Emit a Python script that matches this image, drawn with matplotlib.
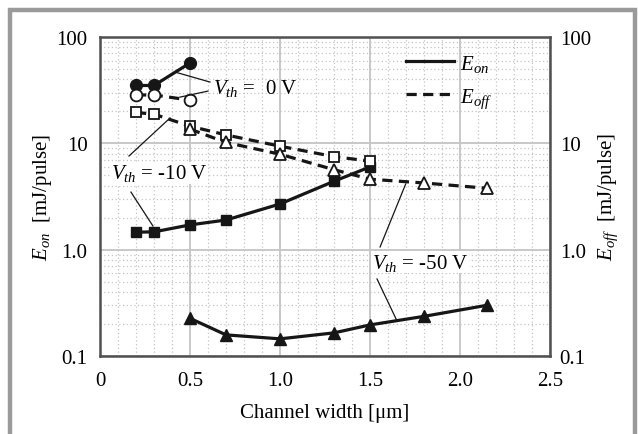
import matplotlib
matplotlib.use("Agg")
import matplotlib.pyplot as plt
from matplotlib.patches import Rectangle
from matplotlib.lines import Line2D
from matplotlib.ticker import FixedLocator, LogLocator, NullFormatter

plt.rcParams['font.family'] = ['Liberation Serif', 'DejaVu Serif']
plt.rcParams['mathtext.fontset'] = 'custom'
plt.rcParams['mathtext.rm'] = 'Liberation Serif'
plt.rcParams['mathtext.it'] = 'Liberation Serif:italic'

# Switching energy vs channel width for three threshold voltages
w_0v = [0.2, 0.3, 0.5]
eon_0v = [35, 35, 57]
eoff_0v = [28.5, 28.5, 25.5]

w_10v = [0.2, 0.3, 0.5, 0.7, 1.0, 1.3, 1.5]
eon_10v = [1.46, 1.47, 1.71, 1.90, 2.69, 4.4, 6.0]
eoff_10v = [19.5, 18.8, 14.5, 12.0, 9.4, 7.5, 6.8]

w_50v = [0.5, 0.7, 1.0, 1.3, 1.5, 1.8, 2.15]
eon_50v = [0.226, 0.158, 0.145, 0.165, 0.196, 0.236, 0.30]
eoff_50v = [13.6, 10.2, 7.9, 5.65, 4.6, 4.24, 3.78]

x_ticks = [0, 0.5, 1.0, 1.5, 2.0, 2.5]
x_ticklabels = ['0', '0.5', '1.0', '1.5', '2.0', '2.5']
y_ticks = [0.1, 1, 10, 100]
y_ticklabels = ['0.1', '1.0', '10', '100']

W, H = 638, 435
fig = plt.figure(figsize=(W / 100, H / 100), dpi=100)
ax = fig.add_axes([100 / W, 1 - 357 / H, 450 / W, 319 / H])

ax.set_yscale('log')
ax.set_xlim(0, 2.5)
ax.set_ylim(0.1, 100)

FS = 15
ink = '#161616'
dash = (0, (3.2, 2.0))
lw = 2.3

def on_line(x, y, marker, ms):
    ax.plot(x, y, color=ink, lw=lw, marker=marker, ms=ms, mfc=ink, mec=ink,
            zorder=4)

def off_line(x, y, marker, ms):
    ax.plot(x, y, color=ink, lw=lw, ls=dash, marker=marker, ms=ms,
            mfc='white', mec=ink, mew=1.3, zorder=5)

off_line(w_0v, eoff_0v, 'o', 8.5)
on_line(w_0v, eon_0v, 'o', 8.5)
off_line(w_10v, eoff_10v, 's', 7.5)
on_line(w_10v, eon_10v, 's', 7.5)
off_line(w_50v, eoff_50v, '^', 8.5)
on_line(w_50v, eon_50v, '^', 8.5)

# grid
ax.xaxis.set_major_locator(FixedLocator(x_ticks))
ax.xaxis.set_minor_locator(FixedLocator([i / 10 for i in range(26)]))
ax.yaxis.set_major_locator(FixedLocator(y_ticks))
ax.yaxis.set_minor_locator(LogLocator(base=10, subs=range(2, 10)))
ax.yaxis.set_minor_formatter(NullFormatter())
ax.grid(which='major', color='#c4c4c4', lw=1.3, ls='-', zorder=0)
ax.grid(which='minor', color='#c4c4c4', lw=0.9, ls=(0, (1, 2)), zorder=0)
ax.set_axisbelow(True)

ax.set_xticklabels(x_ticklabels)
ax.set_yticklabels(y_ticklabels)
ax.tick_params(which='both', length=0, labelsize=FS)
ax.tick_params(axis='x', pad=11)
ax.tick_params(axis='y', pad=9)
for s in ax.spines.values():
    s.set_color('#505050')
    s.set_linewidth(1.8)

ax.set_xlabel('Channel width [μm]', fontsize=FS, labelpad=9)
ax.set_ylabel(r'$E_{on}$  [mJ/pulse]', fontsize=FS)
ax.yaxis.set_label_coords(-0.102, 0.5)

ax2 = ax.twinx()
ax2.set_yscale('log')
ax2.set_ylim(0.1, 100)
ax2.yaxis.set_major_locator(FixedLocator(y_ticks))
ax2.yaxis.set_minor_locator(FixedLocator([]))
ax2.set_yticklabels(y_ticklabels)
ax2.tick_params(which='both', length=0, labelsize=FS, pad=7)
ax2.set_ylabel(r'$E_{off}$  [mJ/pulse]', fontsize=FS)
ax2.yaxis.set_label_coords(1.104, 0.5)
for s in ax2.spines.values():
    s.set_visible(False)

# legend
handles = [Line2D([], [], color=ink, lw=lw),
           Line2D([], [], color=ink, lw=lw, ls=dash)]
ax.legend(handles, [r'$E_{on}$', r'$E_{off}$'], loc='upper right',
          bbox_to_anchor=(0.90, 0.99), frameon=False, fontsize=FS,
          handlelength=2.3, handletextpad=0.3, labelspacing=0.6,
          borderaxespad=0.2)

# annotations
thin = dict(color=ink, lw=0.9, zorder=6)
ax.plot([0.417, 0.611], [46.8, 37.7], **thin)
ax.plot([0.6, 0.444], [31, 27.2], **thin)
ax.text(0.63, 33.8, r'$V_{th}$ =  0 V', fontsize=FS, va='center', ha='left',
        zorder=7)

ax.plot([0.161, 0.389], [7.6, 17.3], **thin)
ax.plot([0.172, 0.294], [3.48, 1.67], **thin)
ax.text(0.06, 5.3, r'$V_{th}$ = -10 V', fontsize=FS, va='center', ha='left',
        zorder=7, bbox=dict(fc='white', ec='none', pad=0.5))

ax.plot([1.556, 1.698], [1.06, 4.14], **thin)
ax.plot([1.539, 1.65], [0.53, 0.214], **thin)
ax.text(1.51, 0.76, r'$V_{th}$ = -50 V', fontsize=FS, va='center', ha='left',
        zorder=7, bbox=dict(fc='white', ec='none', pad=0.5))

# outer frame
fig.patches.append(Rectangle((9.5 / W, -0.05), 625.5 / W, 1.05 - 11 / H,
                             transform=fig.transFigure, fill=False,
                             ec='#9a9a9a', lw=3.2))

fig.savefig('out.png', dpi=100)
